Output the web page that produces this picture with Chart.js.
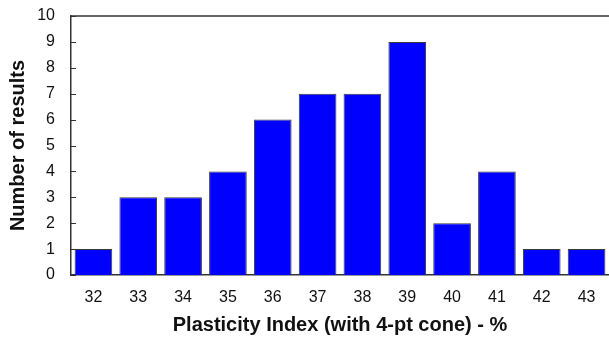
<!DOCTYPE html>
<html>
<head>
<meta charset="utf-8">
<script src="https://cdn.jsdelivr.net/npm/chart.js@4/dist/chart.umd.min.js"></script>
<style>
  body { margin: 0; background: #fff; }
  #wrap { width: 609px; height: 338px; position: relative; }
</style>
</head>
<body>
<div id="wrap"><canvas id="myChart"></canvas></div>
<script>
// plasticity index bins and how many results fell in each
const piBins = ['32', '33', '34', '35', '36', '37', '38', '39', '40', '41', '42', '43']
const resultCounts = [1, 3, 3, 4, 6, 7, 7, 9, 2, 4, 1, 1]
const yTicks = [0, 1, 2, 3, 4, 5, 6, 7, 8, 9, 10]

const axisColor = '#333'

// short tick marks pointing into the plot + the top frame line
const frameAndTicks = {
  id: 'frameAndTicks',
  afterDraw(chart) {
    const ctx = chart.ctx
    const area = chart.chartArea
    const y = chart.scales.y
    ctx.save()
    ctx.strokeStyle = axisColor
    ctx.lineWidth = 1.5
    ctx.beginPath()
    ctx.moveTo(area.left, area.top)
    ctx.lineTo(area.right, area.top)
    ctx.stroke()
    ctx.lineWidth = 1
    y.ticks.forEach(t => {
      const py = Math.round(y.getPixelForValue(t.value)) + 0.5
      ctx.beginPath()
      ctx.moveTo(area.left, py)
      ctx.lineTo(area.left + 5, py)
      ctx.stroke()
    })
    ctx.restore()
  }
}

const ctx = document.getElementById('myChart')

new Chart(ctx, {
  type: 'bar',
  data: {
    labels: piBins,
    datasets: [{
      label: 'Number of results',
      data: resultCounts,
      backgroundColor: '#0000ff',
      borderColor: '#3a3a3a',
      borderWidth: 1,
      barPercentage: 0.84,
      categoryPercentage: 1
    }]
  },
  options: {
    responsive: true,
    maintainAspectRatio: false,
    animation: false,
    layout: { padding: { top: 16, right: 0, left: 0, bottom: 0 } },
    plugins: {
      legend: { display: false },
      tooltip: { enabled: false }
    },
    scales: {
      x: {
        grid: { display: false, drawTicks: false },
        border: { display: true, color: axisColor, width: 1.5 },
        ticks: {
          color: '#111',
          padding: 13,
          font: { family: 'Liberation Sans, Arial, sans-serif', size: 16 }
        },
        title: {
          display: true,
          text: 'Plasticity Index (with 4-pt cone) - %',
          color: '#111',
          padding: { top: 0, bottom: 1 },
          font: { family: 'Liberation Sans, Arial, sans-serif', size: 20, weight: 'bold' }
        },
        afterFit(scale) { scale.height = 63 }
      },
      y: {
        min: 0,
        max: 10,
        afterBuildTicks(scale) { scale.ticks = yTicks.map(v => ({ value: v })) },
        grid: { display: false, drawTicks: false },
        border: { display: true, color: axisColor, width: 1.5 },
        ticks: {
          color: '#111',
          padding: 16,
          font: { family: 'Liberation Sans, Arial, sans-serif', size: 16 }
        },
        title: {
          display: true,
          text: 'Number of results',
          color: '#111',
          padding: { top: 6, bottom: 0 },
          font: { family: 'Liberation Sans, Arial, sans-serif', size: 20, weight: 'bold' }
        },
        afterFit(scale) {
          scale.width = 71
          scale.paddingTop = 0
          scale.paddingBottom = 0
        }
      }
    }
  },
  plugins: [frameAndTicks]
})
</script>
</body>
</html>
